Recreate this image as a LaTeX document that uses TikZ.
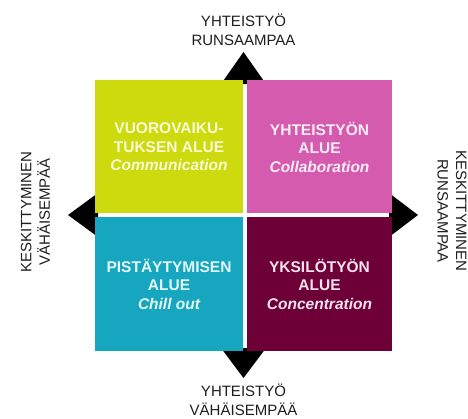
\documentclass[tikz,border=0pt]{standalone}
\usepackage{fontspec}
\setmainfont{Liberation Sans}
\definecolor{qgreen}{RGB}{205,218,14}
\definecolor{qpink}{RGB}{212,91,174}
\definecolor{qcyan}{RGB}{22,166,192}
\definecolor{qmaroon}{RGB}{110,0,56}
\definecolor{labelgray}{RGB}{30,30,30}
\tikzset{
  quadtext/.style={align=center, font=\fontsize{15.5}{18.5}\selectfont\bfseries, inner sep=0pt},
  axislabel/.style={align=center, font=\fontsize{15}{18.5}\selectfont, text=labelgray, inner sep=0pt},
  arrowhead/.style={fill=black, draw=none}
}
\begin{document}
\begin{tikzpicture}[x=1pt, y=-1pt]
  \useasboundingbox (0,0) rectangle (468,418);
  \fill[white] (0,0) rectangle (468,418);

  % direction triangles (drawn first, the quadrants cover their bases)
  \fill[arrowhead] (221,84) -- (243.5,52) -- (266,84) -- cycle;
  \fill[arrowhead] (221,348) -- (243.5,378) -- (266,348) -- cycle;
  \fill[arrowhead] (98,193) -- (68,215) -- (98,237) -- cycle;
  \fill[arrowhead] (389,193) -- (418,215) -- (389,237) -- cycle;

  % the four quadrants
  \fill[qgreen]  (95,80)   rectangle (243,213);
  \fill[qpink]   (247,80)  rectangle (392,213);
  \fill[qcyan]   (95,217)  rectangle (243,351);
  \fill[qmaroon] (247,217) rectangle (392,351);

  \node[quadtext, text={rgb,255:red,248;green,250;blue,215}] (comm) at (169,147)
    {VUOROVAIKU-\\TUKSEN ALUE\\\itshape Communication};
  \node[quadtext, text={rgb,255:red,252;green,236;blue,247}] (coll) at (319.5,147)
    {YHTEISTYÖN\\ALUE\\\itshape Collaboration};
  \node[quadtext, text={rgb,255:red,228;green,248;blue,250}] (chill) at (169,284)
    {PISTÄYTYMISEN\\ALUE\\\itshape Chill out};
  \node[quadtext, text={rgb,255:red,248;green,226;blue,238}] (conc) at (319.5,284)
    {YKSILÖTYÖN\\ALUE\\\itshape Concentration};

  % axis labels
  \node[axislabel] (top) at (243.5,30) {YHTEISTYÖ\\RUNSAAMPAA};
  \node[axislabel] (bottom) at (243.5,400) {YHTEISTYÖ\\VÄHÄISEMPÄÄ};
  \node[axislabel, rotate=90] (left) at (35.5,212) {KESKITTYMINEN\\VÄHÄISEMPÄÄ};
  \node[axislabel, rotate=-90] (right) at (452,211) {KESKITTYMINEN\\RUNSAAMPAA};
\end{tikzpicture}
\end{document}
